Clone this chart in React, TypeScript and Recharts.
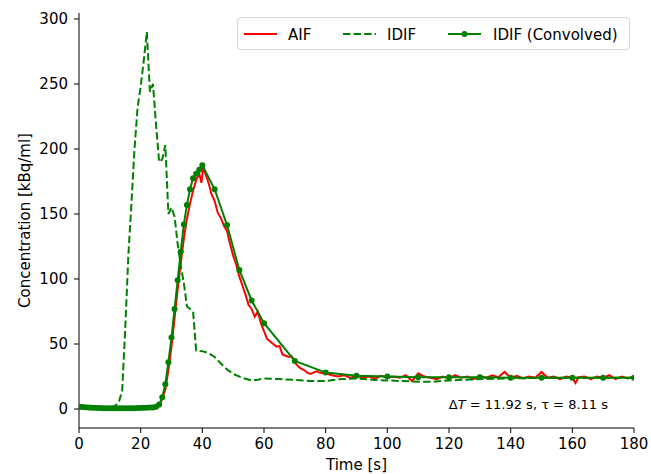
import { LineChart, Line, XAxis, YAxis } from 'recharts';

const FONT = '"DejaVu Sans", sans-serif';
const RED = '#ff0000';
const GREEN = '#008000';

const xTicks = [0, 20, 40, 60, 80, 100, 120, 140, 160, 180];
const yTicks = [0, 50, 100, 150, 200, 250, 300];

// arterial input function (blood samples)
const aifTime = [
  0, 5, 10, 15, 20, 24, 25, 26, 27, 28, 29, 30, 31, 32, 33, 34, 35, 36, 37, 38, 39, 39.7, 40.3,
  41, 42, 43, 44, 45, 46, 47, 48, 49, 50, 51, 52, 53, 54, 55, 56, 57, 58, 59, 60, 61, 62, 63,
  64, 65, 66, 67, 68, 69, 70, 71, 72, 73, 74, 75, 76, 77, 78, 79, 80, 82, 84, 86, 88, 90, 92,
  94, 96, 98, 100, 102, 104, 106, 108, 110, 112, 114, 116, 118, 120, 122, 124, 126, 128, 130,
  132, 134, 136, 138, 140, 142, 144, 146, 148, 150, 152, 154, 156, 158, 160, 161, 162, 164, 166,
  168, 170, 172, 174, 176, 178, 180,
];
const aifValue = [
  0.5, 0.4, 0.3, 0.3, 0.3, 0.4, 0.6, 2, 8, 15, 30, 48, 70, 92, 112, 131, 146, 158, 168, 176, 181, 174, 186,
  181, 174, 165, 160, 151, 147, 141, 137, 127, 118, 111, 102, 95, 88, 80, 77, 71, 75, 66, 60, 54, 52, 50,
  48, 48.5, 42, 41, 40, 40.5, 36, 33, 31, 30, 28, 27, 28, 29, 28, 27.5, 27.5, 26, 25, 26, 24, 26, 24,
  25, 23.5, 25.5, 24, 25, 24, 26, 21.5, 27.5, 25, 24, 23, 25, 23.5, 26, 24, 25, 23, 25.5,
  24, 26, 24.5, 28.5, 24, 25.5, 23.5, 25, 24, 28.5, 24, 25, 23, 25, 24, 20, 24.5, 25, 23,
  25, 24, 26, 23, 25, 23.5, 25,
];

// image derived input function
const idifTime = [
  0, 2, 4, 6, 8, 10, 11, 12, 13, 14, 15, 16, 17, 18, 19, 20, 21, 22, 23, 24, 25, 26, 27, 28, 29, 30,
  31, 32, 33, 34, 35, 36, 37, 38, 40, 42, 44, 46, 48, 50, 53, 56, 58, 60, 65, 70, 75, 80, 85, 90,
  95, 100, 105, 110, 115, 120, 130, 140, 150, 160, 170, 180,
];
const idifValue = [
  1.5, 1.3, 1, 0.8, 0.6, 0.8, 1.5, 3, 6, 14, 62, 118, 158, 200, 232, 248, 268, 290, 244, 250, 218, 190,
  192, 203, 150, 155, 148, 127, 110, 97, 79, 77, 75, 45, 44.5, 43, 40, 35, 30.5, 27, 24, 22, 22.5, 23.5,
  23, 22.5, 21.5, 21.5, 23, 23.5, 22.5, 22, 21.5, 21, 21, 22, 23, 23.5, 24, 24, 24, 24,
];

// IDIF after delay + dispersion convolution
const convTime = [
  0, 1, 2, 3, 4, 5, 6, 7, 8, 9, 10, 11, 12, 13, 14, 15, 16, 17, 18, 19, 20, 21, 22, 23, 24, 25, 26,
  27, 28, 29, 30, 31, 32, 33, 34, 35, 36, 37, 38, 39, 40, 44, 48, 52, 56, 60, 70, 80, 90, 100, 110,
  120, 130, 140, 150, 160, 170, 180,
];
const convValue = [
  1.8, 1.6, 1.4, 1.2, 1.0, 0.9, 0.8, 0.7, 0.6, 0.6, 0.5, 0.5, 0.5, 0.5, 0.5, 0.5, 0.5, 0.6, 0.6, 0.7,
  0.8, 0.9, 1.0, 1.1, 1.2, 1.8, 3.5, 9, 19, 36, 55, 77, 99, 121, 142, 157, 169, 177.5, 181, 184, 187.5,
  169, 141.5, 107, 83.5, 66, 37, 28, 25.5, 25, 24.5, 24.5, 24.5, 24, 24, 24, 24, 24,
];

const toPoints = (ts: number[], vs: number[]) => ts.map((t, i) => ({ t, v: vs[i] }));

const aifData = toPoints(aifTime, aifValue);
const idifData = toPoints(idifTime, idifValue);
const convData = toPoints(convTime, convValue);

const tickStyle = { fill: '#000', fontSize: 15, fontFamily: FONT };
const axisStroke = { stroke: '#000', strokeWidth: 1 };

const Legend = () => (
  <div
    style={{
      position: 'absolute',
      left: 237,
      top: 17,
      width: 393,
      height: 33,
      boxSizing: 'border-box',
      border: '1px solid #d6d6d6',
      borderRadius: 4,
      background: 'rgba(255,255,255,0.8)',
    }}
  >
    <svg width={393} height={33} style={{ display: 'block' }}>
      <g fontFamily={FONT} fontSize={15} fill="#000">
        <line x1={6} x2={39} y1={16} y2={16} stroke={RED} strokeWidth={2} />
        <text x={50} y={21.5}>AIF</text>
        <line x1={105} x2={138} y1={16} y2={16} stroke={GREEN} strokeWidth={2} strokeDasharray="7.4 3.2" />
        <text x={149} y={21.5}>IDIF</text>
        <line x1={210} x2={243} y1={16} y2={16} stroke={GREEN} strokeWidth={2} />
        <circle cx={226.5} cy={16} r={3} fill={GREEN} />
        <text x={255} y={21.5}>IDIF (Convolved)</text>
      </g>
    </svg>
  </div>
);

export default function App() {
  return (
    <div style={{ position: 'absolute', left: 0, top: 0, width: 651, height: 474, background: '#fff' }}>
      <LineChart width={651} height={474} margin={{ top: 13, right: 17, bottom: 0, left: 0 }}>
        <XAxis
          xAxisId="bottom"
          dataKey="t"
          type="number"
          domain={[0, 180]}
          ticks={xTicks}
          allowDataOverflow
          height={46}
          tickSize={5}
          tickMargin={5}
          tick={tickStyle}
          tickLine={axisStroke}
          axisLine={axisStroke}
          label={{
            content: (props: any) => {
              const vb = props.viewBox;
              return (
                <text x={vb.x + vb.width / 2} y={vb.y + 42} textAnchor="middle" fontFamily={FONT} fontSize={15} fill="#000">
                  Time [s]
                </text>
              );
            },
          }}
        />
        <XAxis
          xAxisId="top"
          orientation="top"
          type="number"
          domain={[0, 180]}
          height={0}
          tick={false}
          tickLine={false}
          axisLine={axisStroke}
        />
        <YAxis
          yAxisId="left"
          type="number"
          domain={[-14.6, 304.6]}
          ticks={yTicks}
          allowDataOverflow
          width={79}
          tickSize={5}
          tickMargin={6}
          tick={tickStyle}
          tickLine={axisStroke}
          axisLine={axisStroke}
          label={{
            content: (props: any) => {
              const vb = props.viewBox;
              const cx = vb.x + 25;
              const cy = vb.y + vb.height / 2;
              return (
                <text
                  x={cx}
                  y={cy}
                  transform={`rotate(-90 ${cx} ${cy})`}
                  textAnchor="middle"
                  dominantBaseline="central"
                  fontFamily={FONT}
                  fontSize={15}
                  fill="#000"
                >
                  Concentration [kBq/ml]
                </text>
              );
            },
          }}
        />
        <YAxis
          yAxisId="right"
          orientation="right"
          type="number"
          domain={[-14.6, 304.6]}
          width={0}
          tick={false}
          tickLine={false}
          axisLine={axisStroke}
        />
        <Line
          xAxisId="bottom"
          yAxisId="left"
          data={aifData}
          dataKey="v"
          type="linear"
          stroke={RED}
          strokeWidth={2}
          dot={false}
          isAnimationActive={false}
        />
        <Line
          xAxisId="bottom"
          yAxisId="left"
          data={idifData}
          dataKey="v"
          type="linear"
          stroke={GREEN}
          strokeWidth={2}
          strokeDasharray="7.4 3.2"
          dot={false}
          isAnimationActive={false}
        />
        <Line
          xAxisId="bottom"
          yAxisId="left"
          data={convData}
          dataKey="v"
          type="linear"
          stroke={GREEN}
          strokeWidth={2}
          dot={{ r: 3, fill: GREEN, stroke: GREEN, strokeWidth: 0 }}
          isAnimationActive={false}
        />
      </LineChart>
      <Legend />
      <div
        style={{
          position: 'absolute',
          right: 43,
          top: 397,
          fontFamily: FONT,
          fontSize: 13,
          lineHeight: '16px',
          whiteSpace: 'nowrap',
          color: '#000',
        }}
      >
        Δ<i>T</i> = 11.92 s, τ = 8.11 s
      </div>
    </div>
  );
}
